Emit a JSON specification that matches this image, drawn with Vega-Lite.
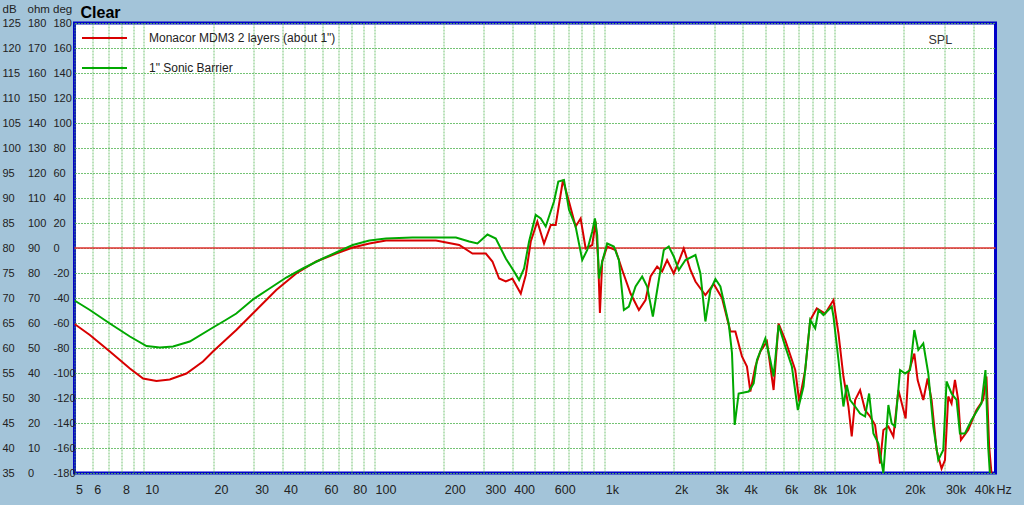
{
"$schema":"https://vega.github.io/schema/vega-lite/v6.json",
"width":921,"height":450,"autosize":"none",
"padding":{"left":74.5,"top":23,"right":28.5,"bottom":32},
"background":"#a3c4d9",
"view":{"fill":"white","stroke":"#0000c8","strokeWidth":3},
"config":{"view":{"fill":"white","stroke":"#0000c8","strokeWidth":3},"font":"Liberation Sans"},
"data":{"values":[
{"s":"Monacor MDM3 2 layers (about 1\")","f":5,"db":64.8},{"s":"Monacor MDM3 2 layers (about 1\")","f":5.83,"db":62.6},{"s":"Monacor MDM3 2 layers (about 1\")","f":7.12,"db":59.3},{"s":"Monacor MDM3 2 layers (about 1\")","f":8.7,"db":55.9},{"s":"Monacor MDM3 2 layers (about 1\")","f":9.93,"db":53.9},{"s":"Monacor MDM3 2 layers (about 1\")","f":11.35,"db":53.4},{"s":"Monacor MDM3 2 layers (about 1\")","f":12.96,"db":53.7},{"s":"Monacor MDM3 2 layers (about 1\")","f":15.31,"db":54.9},{"s":"Monacor MDM3 2 layers (about 1\")","f":18.07,"db":57.3},{"s":"Monacor MDM3 2 layers (about 1\")","f":19.97,"db":59.3},{"s":"Monacor MDM3 2 layers (about 1\")","f":22.5,"db":61.5},{"s":"Monacor MDM3 2 layers (about 1\")","f":25.22,"db":63.6},{"s":"Monacor MDM3 2 layers (about 1\")","f":30.8,"db":67.6},{"s":"Monacor MDM3 2 layers (about 1\")","f":37.6,"db":71.6},{"s":"Monacor MDM3 2 layers (about 1\")","f":45.91,"db":74.9},{"s":"Monacor MDM3 2 layers (about 1\")","f":56.07,"db":77.3},{"s":"Monacor MDM3 2 layers (about 1\")","f":68.44,"db":78.9},{"s":"Monacor MDM3 2 layers (about 1\")","f":80.78,"db":80.1},{"s":"Monacor MDM3 2 layers (about 1\")","f":95.41,"db":80.9},{"s":"Monacor MDM3 2 layers (about 1\")","f":112.7,"db":81.5},{"s":"Monacor MDM3 2 layers (about 1\")","f":185.7,"db":81.5},{"s":"Monacor MDM3 2 layers (about 1\")","f":234.3,"db":80.6},{"s":"Monacor MDM3 2 layers (about 1\")","f":267.6,"db":78.9},{"s":"Monacor MDM3 2 layers (about 1\")","f":305.8,"db":78.9},{"s":"Monacor MDM3 2 layers (about 1\")","f":326.7,"db":77.3},{"s":"Monacor MDM3 2 layers (about 1\")","f":349.2,"db":73.9},{"s":"Monacor MDM3 2 layers (about 1\")","f":373.4,"db":73.3},{"s":"Monacor MDM3 2 layers (about 1\")","f":398.8,"db":73.9},{"s":"Monacor MDM3 2 layers (about 1\")","f":433.7,"db":70.9},{"s":"Monacor MDM3 2 layers (about 1\")","f":456,"db":74.6},{"s":"Monacor MDM3 2 layers (about 1\")","f":479.3,"db":81.3},{"s":"Monacor MDM3 2 layers (about 1\")","f":511.8,"db":85.3},{"s":"Monacor MDM3 2 layers (about 1\")","f":547.3,"db":80.9},{"s":"Monacor MDM3 2 layers (about 1\")","f":585.4,"db":84.6},{"s":"Monacor MDM3 2 layers (about 1\")","f":615,"db":84.6},{"s":"Monacor MDM3 2 layers (about 1\")","f":661.5,"db":93.6},{"s":"Monacor MDM3 2 layers (about 1\")","f":702.3,"db":89.3},{"s":"Monacor MDM3 2 layers (about 1\")","f":750.6,"db":84.3},{"s":"Monacor MDM3 2 layers (about 1\")","f":789.1,"db":85.9},{"s":"Monacor MDM3 2 layers (about 1\")","f":829.7,"db":79.9},{"s":"Monacor MDM3 2 layers (about 1\")","f":886.3,"db":80.6},{"s":"Monacor MDM3 2 layers (about 1\")","f":916.9,"db":85.3},{"s":"Monacor MDM3 2 layers (about 1\")","f":941,"db":77.3},{"s":"Monacor MDM3 2 layers (about 1\")","f":957,"db":67},{"s":"Monacor MDM3 2 layers (about 1\")","f":979.2,"db":77.3},{"s":"Monacor MDM3 2 layers (about 1\")","f":1029,"db":80.3},{"s":"Monacor MDM3 2 layers (about 1\")","f":1119,"db":79.6},{"s":"Monacor MDM3 2 layers (about 1\")","f":1196,"db":75.6},{"s":"Monacor MDM3 2 layers (about 1\")","f":1300,"db":70.9},{"s":"Monacor MDM3 2 layers (about 1\")","f":1413,"db":67.6},{"s":"Monacor MDM3 2 layers (about 1\")","f":1510,"db":69.6},{"s":"Monacor MDM3 2 layers (about 1\")","f":1588,"db":74.3},{"s":"Monacor MDM3 2 layers (about 1\")","f":1696,"db":76.3},{"s":"Monacor MDM3 2 layers (about 1\")","f":1782,"db":75.3},{"s":"Monacor MDM3 2 layers (about 1\")","f":1874,"db":77.6},{"s":"Monacor MDM3 2 layers (about 1\")","f":2003,"db":74.9},{"s":"Monacor MDM3 2 layers (about 1\")","f":2106,"db":77.3},{"s":"Monacor MDM3 2 layers (about 1\")","f":2213,"db":79.9},{"s":"Monacor MDM3 2 layers (about 1\")","f":2366,"db":75.6},{"s":"Monacor MDM3 2 layers (about 1\")","f":2488,"db":73.3},{"s":"Monacor MDM3 2 layers (about 1\")","f":2615,"db":71.9},{"s":"Monacor MDM3 2 layers (about 1\")","f":2748,"db":70.6},{"s":"Monacor MDM3 2 layers (about 1\")","f":2986,"db":72.8},{"s":"Monacor MDM3 2 layers (about 1\")","f":3244,"db":70},{"s":"Monacor MDM3 2 layers (about 1\")","f":3528,"db":63.3},{"s":"Monacor MDM3 2 layers (about 1\")","f":3708,"db":63.3},{"s":"Monacor MDM3 2 layers (about 1\")","f":3961,"db":58.3},{"s":"Monacor MDM3 2 layers (about 1\")","f":4164,"db":56.3},{"s":"Monacor MDM3 2 layers (about 1\")","f":4308,"db":51.3},{"s":"Monacor MDM3 2 layers (about 1\")","f":4529,"db":56.3},{"s":"Monacor MDM3 2 layers (about 1\")","f":4761,"db":59.3},{"s":"Monacor MDM3 2 layers (about 1\")","f":5084,"db":61.3},{"s":"Monacor MDM3 2 layers (about 1\")","f":5435,"db":51.6},{"s":"Monacor MDM3 2 layers (about 1\")","f":5713,"db":64.9},{"s":"Monacor MDM3 2 layers (about 1\")","f":6107,"db":61.6},{"s":"Monacor MDM3 2 layers (about 1\")","f":6749,"db":55.6},{"s":"Monacor MDM3 2 layers (about 1\")","f":7023,"db":49.3},{"s":"Monacor MDM3 2 layers (about 1\")","f":7457,"db":55.6},{"s":"Monacor MDM3 2 layers (about 1\")","f":7839,"db":65.6},{"s":"Monacor MDM3 2 layers (about 1\")","f":8372,"db":67.9},{"s":"Monacor MDM3 2 layers (about 1\")","f":9105,"db":66.9},{"s":"Monacor MDM3 2 layers (about 1\")","f":9890,"db":69.6},{"s":"Monacor MDM3 2 layers (about 1\")","f":10397,"db":62.9},{"s":"Monacor MDM3 2 layers (about 1\")","f":10928,"db":54.3},{"s":"Monacor MDM3 2 layers (about 1\")","f":11487,"db":48.3},{"s":"Monacor MDM3 2 layers (about 1\")","f":11873,"db":42.3},{"s":"Monacor MDM3 2 layers (about 1\")","f":12282,"db":49.6},{"s":"Monacor MDM3 2 layers (about 1\")","f":12910,"db":51.6},{"s":"Monacor MDM3 2 layers (about 1\")","f":13570,"db":47.6},{"s":"Monacor MDM3 2 layers (about 1\")","f":14267,"db":46.3},{"s":"Monacor MDM3 2 layers (about 1\")","f":14997,"db":44.6},{"s":"Monacor MDM3 2 layers (about 1\")","f":15765,"db":36.9},{"s":"Monacor MDM3 2 layers (about 1\")","f":16294,"db":43.6},{"s":"Monacor MDM3 2 layers (about 1\")","f":17128,"db":44.3},{"s":"Monacor MDM3 2 layers (about 1\")","f":18006,"db":42.3},{"s":"Monacor MDM3 2 layers (about 1\")","f":18928,"db":51.6},{"s":"Monacor MDM3 2 layers (about 1\")","f":20358,"db":45.9},{"s":"Monacor MDM3 2 layers (about 1\")","f":20914,"db":54.9},{"s":"Monacor MDM3 2 layers (about 1\")","f":22206,"db":58.9},{"s":"Monacor MDM3 2 layers (about 1\")","f":22950,"db":53.6},{"s":"Monacor MDM3 2 layers (about 1\")","f":24287,"db":49.6},{"s":"Monacor MDM3 2 layers (about 1\")","f":25353,"db":53.9},{"s":"Monacor MDM3 2 layers (about 1\")","f":26386,"db":49.6},{"s":"Monacor MDM3 2 layers (about 1\")","f":27737,"db":39.6},{"s":"Monacor MDM3 2 layers (about 1\")","f":29158,"db":35.9},{"s":"Monacor MDM3 2 layers (about 1\")","f":30165,"db":37.6},{"s":"Monacor MDM3 2 layers (about 1\")","f":31175,"db":50.3},{"s":"Monacor MDM3 2 layers (about 1\")","f":32220,"db":48.9},{"s":"Monacor MDM3 2 layers (about 1\")","f":33331,"db":53.6},{"s":"Monacor MDM3 2 layers (about 1\")","f":34447,"db":49.6},{"s":"Monacor MDM3 2 layers (about 1\")","f":35387,"db":41.6},{"s":"Monacor MDM3 2 layers (about 1\")","f":38054,"db":43.6},{"s":"Monacor MDM3 2 layers (about 1\")","f":41343,"db":47.6},{"s":"Monacor MDM3 2 layers (about 1\")","f":44201,"db":49.6},{"s":"Monacor MDM3 2 layers (about 1\")","f":45681,"db":54.3},{"s":"Monacor MDM3 2 layers (about 1\")","f":46929,"db":40.3},{"s":"Monacor MDM3 2 layers (about 1\")","f":48017,"db":35},
{"s":"1\" Sonic Barrier","f":5,"db":69.5},{"s":"1\" Sonic Barrier","f":5.83,"db":67.6},{"s":"1\" Sonic Barrier","f":7.12,"db":64.9},{"s":"1\" Sonic Barrier","f":8.7,"db":62.3},{"s":"1\" Sonic Barrier","f":10.27,"db":60.4},{"s":"1\" Sonic Barrier","f":11.73,"db":60.1},{"s":"1\" Sonic Barrier","f":13.4,"db":60.3},{"s":"1\" Sonic Barrier","f":15.83,"db":61.3},{"s":"1\" Sonic Barrier","f":19.97,"db":64.1},{"s":"1\" Sonic Barrier","f":22.5,"db":65.5},{"s":"1\" Sonic Barrier","f":25.22,"db":66.9},{"s":"1\" Sonic Barrier","f":29.77,"db":69.7},{"s":"1\" Sonic Barrier","f":35.17,"db":71.9},{"s":"1\" Sonic Barrier","f":41.55,"db":74.1},{"s":"1\" Sonic Barrier","f":49.04,"db":75.9},{"s":"1\" Sonic Barrier","f":59.88,"db":77.9},{"s":"1\" Sonic Barrier","f":68.44,"db":79.1},{"s":"1\" Sonic Barrier","f":80.78,"db":80.6},{"s":"1\" Sonic Barrier","f":95.41,"db":81.5},{"s":"1\" Sonic Barrier","f":112.7,"db":81.9},{"s":"1\" Sonic Barrier","f":146.6,"db":82.1},{"s":"1\" Sonic Barrier","f":226.7,"db":82.1},{"s":"1\" Sonic Barrier","f":258.9,"db":81.3},{"s":"1\" Sonic Barrier","f":281.2,"db":80.9},{"s":"1\" Sonic Barrier","f":310.8,"db":82.7},{"s":"1\" Sonic Barrier","f":337.9,"db":81.9},{"s":"1\" Sonic Barrier","f":373.4,"db":77.9},{"s":"1\" Sonic Barrier","f":405.6,"db":75.3},{"s":"1\" Sonic Barrier","f":426.4,"db":73.6},{"s":"1\" Sonic Barrier","f":448.3,"db":75.9},{"s":"1\" Sonic Barrier","f":471.2,"db":81.3},{"s":"1\" Sonic Barrier","f":503.7,"db":86.6},{"s":"1\" Sonic Barrier","f":529.6,"db":85.9},{"s":"1\" Sonic Barrier","f":556.6,"db":84.3},{"s":"1\" Sonic Barrier","f":604.6,"db":89.3},{"s":"1\" Sonic Barrier","f":631.2,"db":93.3},{"s":"1\" Sonic Barrier","f":668.1,"db":93.6},{"s":"1\" Sonic Barrier","f":702.3,"db":87.7},{"s":"1\" Sonic Barrier","f":750.6,"db":84.3},{"s":"1\" Sonic Barrier","f":802,"db":77.6},{"s":"1\" Sonic Barrier","f":843.1,"db":79.6},{"s":"1\" Sonic Barrier","f":886.3,"db":83.3},{"s":"1\" Sonic Barrier","f":910.5,"db":85.9},{"s":"1\" Sonic Barrier","f":931.6,"db":82.6},{"s":"1\" Sonic Barrier","f":947.6,"db":73.9},{"s":"1\" Sonic Barrier","f":979.2,"db":77.3},{"s":"1\" Sonic Barrier","f":1029,"db":80.9},{"s":"1\" Sonic Barrier","f":1100,"db":80.3},{"s":"1\" Sonic Barrier","f":1157,"db":77.6},{"s":"1\" Sonic Barrier","f":1216,"db":67.6},{"s":"1\" Sonic Barrier","f":1278,"db":68.3},{"s":"1\" Sonic Barrier","f":1367,"db":72.3},{"s":"1\" Sonic Barrier","f":1460,"db":74.3},{"s":"1\" Sonic Barrier","f":1535,"db":72.3},{"s":"1\" Sonic Barrier","f":1625,"db":66.3},{"s":"1\" Sonic Barrier","f":1725,"db":73.6},{"s":"1\" Sonic Barrier","f":1813,"db":79.6},{"s":"1\" Sonic Barrier","f":1905,"db":80.3},{"s":"1\" Sonic Barrier","f":2003,"db":78.3},{"s":"1\" Sonic Barrier","f":2106,"db":75.6},{"s":"1\" Sonic Barrier","f":2251,"db":77.6},{"s":"1\" Sonic Barrier","f":2488,"db":78.6},{"s":"1\" Sonic Barrier","f":2615,"db":74.9},{"s":"1\" Sonic Barrier","f":2748,"db":65.3},{"s":"1\" Sonic Barrier","f":2889,"db":71.6},{"s":"1\" Sonic Barrier","f":3037,"db":73.8},{"s":"1\" Sonic Barrier","f":3192,"db":72.3},{"s":"1\" Sonic Barrier","f":3469,"db":64.9},{"s":"1\" Sonic Barrier","f":3585,"db":59},{"s":"1\" Sonic Barrier","f":3683,"db":44.6},{"s":"1\" Sonic Barrier","f":3832,"db":50.9},{"s":"1\" Sonic Barrier","f":4235,"db":51.3},{"s":"1\" Sonic Barrier","f":4453,"db":52.9},{"s":"1\" Sonic Barrier","f":4602,"db":57.6},{"s":"1\" Sonic Barrier","f":5004,"db":61.9},{"s":"1\" Sonic Barrier","f":5259,"db":57.6},{"s":"1\" Sonic Barrier","f":5435,"db":54.3},{"s":"1\" Sonic Barrier","f":5713,"db":64.6},{"s":"1\" Sonic Barrier","f":6107,"db":60.3},{"s":"1\" Sonic Barrier","f":6524,"db":56.3},{"s":"1\" Sonic Barrier","f":6926,"db":47.6},{"s":"1\" Sonic Barrier","f":7331,"db":52.3},{"s":"1\" Sonic Barrier","f":7839,"db":65.6},{"s":"1\" Sonic Barrier","f":8240,"db":63.9},{"s":"1\" Sonic Barrier","f":8516,"db":67.6},{"s":"1\" Sonic Barrier","f":8951,"db":66.6},{"s":"1\" Sonic Barrier","f":9724,"db":68.3},{"s":"1\" Sonic Barrier","f":9890,"db":66.3},{"s":"1\" Sonic Barrier","f":10397,"db":57.6},{"s":"1\" Sonic Barrier","f":10928,"db":48.3},{"s":"1\" Sonic Barrier","f":11294,"db":52.6},{"s":"1\" Sonic Barrier","f":11684,"db":49.6},{"s":"1\" Sonic Barrier","f":12282,"db":48.3},{"s":"1\" Sonic Barrier","f":12910,"db":46.9},{"s":"1\" Sonic Barrier","f":13570,"db":46.3},{"s":"1\" Sonic Barrier","f":14125,"db":50.9},{"s":"1\" Sonic Barrier","f":14745,"db":42.9},{"s":"1\" Sonic Barrier","f":15500,"db":40.9},{"s":"1\" Sonic Barrier","f":16294,"db":35},{"s":"1\" Sonic Barrier","f":17128,"db":48.6},{"s":"1\" Sonic Barrier","f":17703,"db":44.9},{"s":"1\" Sonic Barrier","f":18314,"db":44.3},{"s":"1\" Sonic Barrier","f":19252,"db":55.6},{"s":"1\" Sonic Barrier","f":20237,"db":54.9},{"s":"1\" Sonic Barrier","f":21272,"db":55.6},{"s":"1\" Sonic Barrier","f":22206,"db":63.6},{"s":"1\" Sonic Barrier","f":23111,"db":59.6},{"s":"1\" Sonic Barrier","f":24287,"db":60.9},{"s":"1\" Sonic Barrier","f":25531,"db":54.9},{"s":"1\" Sonic Barrier","f":26838,"db":44.3},{"s":"1\" Sonic Barrier","f":28212,"db":37.6},{"s":"1\" Sonic Barrier","f":29657,"db":39.6},{"s":"1\" Sonic Barrier","f":30650,"db":53.3},{"s":"1\" Sonic Barrier","f":32220,"db":50.9},{"s":"1\" Sonic Barrier","f":33868,"db":49.6},{"s":"1\" Sonic Barrier","f":35036,"db":42.9},{"s":"1\" Sonic Barrier","f":36820,"db":42.9},{"s":"1\" Sonic Barrier","f":39329,"db":45.6},{"s":"1\" Sonic Barrier","f":43457,"db":48.9},{"s":"1\" Sonic Barrier","f":45227,"db":55.6},{"s":"1\" Sonic Barrier","f":46463,"db":40.3},{"s":"1\" Sonic Barrier","f":47256,"db":35}
]},
"resolve":{"axis":{"x":"independent","y":"independent"}},
"layer":[
{"data":{"values":[{"ref":"0 deg"}]},
 "mark":{"type":"rule","color":"#e03030","strokeWidth":1},
 "encoding":{
  "x":{"datum":5,"type":"quantitative","scale":{"type":"log","domain":[5,50000],"nice":false},
       "axis":{"orient":"top","labels":false,"ticks":false,"domain":false,"grid":false,"title":"SPL","titleX":853.5,"titleY":16,"titleAlign":"left","titleBaseline":"middle","titleFontWeight":"normal","titleFontSize":12.5,"titleColor":"#333","titleFont":"Liberation Sans"}},
  "x2":{"datum":50000},
  "y":{"datum":80,"type":"quantitative","scale":{"domain":[35,125],"nice":false,"zero":false},
       "axis":{"orient":"left","title":"deg","titleAngle":0,"titleX":-22,"titleY":-14,"titleAlign":"left","titleBaseline":"middle","titleFontWeight":"normal","titleFontSize":11.5,"titleColor":"#222","titleFont":"Liberation Sans",
        "values":[35,40,45,50,55,60,65,70,75,80,85,90,95,100,105,110,115,120,125],"labelExpr":"'' + ((datum.value-80)*4)",
        "labelAlign":"left","labelBaseline":"middle","labelPadding":21.5,"ticks":false,"tickSize":0,"domain":false,"grid":false,"labelFontSize":11,"labelColor":"#222","labelOverlap":false,"labelFlush":false}}
 }},
{"data":{"values":[{"ref":"0 deg"}]},
 "mark":{"type":"rule","color":"#e03030","strokeWidth":1},
 "encoding":{
  "x":{"datum":5,"type":"quantitative","scale":{"type":"log","domain":[5,50000],"nice":false},
       "axis":{"orient":"top","labels":false,"ticks":false,"domain":false,"grid":false,"title":"Clear","titleX":5.5,"titleY":-3,"titleAlign":"left","titleBaseline":"bottom","titleFontWeight":"bold","titleFontSize":16,"titleColor":"#000","titleFont":"Liberation Sans"}},
  "x2":{"datum":50000},
  "y":{"datum":80,"type":"quantitative","scale":{"domain":[35,125],"nice":false,"zero":false},"axis":null}
 }},
{"transform":[{"filter":{"field":"s","equal":"Monacor MDM3 2 layers (about 1\")"}}],
 "mark":{"type":"line","strokeWidth":2,"clip":true},
 "encoding":{
  "x":{"field":"f","type":"quantitative","scale":{"type":"log","domain":[5,50000],"nice":false},
       "axis":{"orient":"bottom","values":[5,6,7,8,9,10,20,30,40,50,60,70,80,90,100,200,300,400,500,600,700,800,900,1000,2000,3000,4000,5000,6000,7000,8000,9000,10000,20000,30000,40000],
        "labelExpr":"indexof([7,9,50,70,90,500,700,800,900,5000,7000,9000], datum.value) >= 0 ? '' : (datum.value >= 1000 ? (datum.value/1000) + 'k' : '' + datum.value)",
        "labelAlign":"left","labelBaseline":"middle","labelPadding":16,"labelOffset":1,"ticks":false,"tickSize":0,"domain":false,"grid":true,"gridColor":"#5cb85c","gridDash":[2,1],"gridOpacity":0.85,"gridWidth":1,
        "labelFontSize":12.5,"labelColor":"#222","labelOverlap":false,"labelFlush":false,
        "title":"Hz","titleX":921.5,"titleY":16,"titleAlign":"left","titleBaseline":"middle","titleFontWeight":"normal","titleFontSize":12.5,"titleColor":"#222","titleFont":"Liberation Sans"}},
  "y":{"field":"db","type":"quantitative","scale":{"domain":[35,125],"nice":false,"zero":false},
       "axis":{"orient":"left","title":"dB","titleAngle":0,"titleX":-72.5,"titleY":-14,"titleAlign":"left","titleBaseline":"middle","titleFontWeight":"normal","titleFontSize":11.5,"titleColor":"#222","titleFont":"Liberation Sans",
        "values":[35,40,45,50,55,60,65,70,75,80,85,90,95,100,105,110,115,120,125],
        "labelAlign":"left","labelBaseline":"middle","labelPadding":72.5,"ticks":false,"tickSize":0,"domain":false,"grid":true,"gridColor":"#5cb85c","gridDash":[2,1],"gridOpacity":0.85,"gridWidth":1,"labelFontSize":11,"labelColor":"#222","labelOverlap":false,"labelFlush":false}},
  "color":{"field":"s","type":"nominal","scale":{"domain":["Monacor MDM3 2 layers (about 1\")","1\" Sonic Barrier"],"range":["#d80000","#00a800"]},
       "legend":{"title":null,"orient":"none","legendX":6.5,"legendY":-8.5,"symbolType":"stroke","symbolSize":2025,"symbolStrokeWidth":2,"labelFontSize":12,"labelColor":"#222","labelFont":"Liberation Sans","rowPadding":-18,"labelOffset":21,"padding":0,"labelLimit":400}}
 }},
{"transform":[{"filter":{"field":"s","equal":"1\" Sonic Barrier"}}],
 "mark":{"type":"line","strokeWidth":2,"clip":true},
 "encoding":{
  "x":{"field":"f","type":"quantitative","scale":{"type":"log","domain":[5,50000],"nice":false},"axis":null},
  "y":{"field":"db","type":"quantitative","scale":{"domain":[35,125],"nice":false,"zero":false},
       "axis":{"orient":"left","title":"ohm","titleAngle":0,"titleX":-47.5,"titleY":-14,"titleAlign":"left","titleBaseline":"middle","titleFontWeight":"normal","titleFontSize":11.5,"titleColor":"#222","titleFont":"Liberation Sans",
        "values":[35,40,45,50,55,60,65,70,75,80,85,90,95,100,105,110,115,120,125],"labelExpr":"'' + ((datum.value-35)*2)",
        "labelAlign":"left","labelBaseline":"middle","labelPadding":47,"ticks":false,"tickSize":0,"domain":false,"grid":false,"labelFontSize":11,"labelColor":"#222","labelOverlap":false,"labelFlush":false}},
  "color":{"field":"s","type":"nominal","scale":{"domain":["Monacor MDM3 2 layers (about 1\")","1\" Sonic Barrier"],"range":["#d80000","#00a800"]},
       "legend":{"title":null,"orient":"none","legendX":6.5,"legendY":-8.5,"symbolType":"stroke","symbolSize":2025,"symbolStrokeWidth":2,"labelFontSize":12,"labelColor":"#222","labelFont":"Liberation Sans","rowPadding":-18,"labelOffset":21,"padding":0,"labelLimit":400}}
 }}
]
}
